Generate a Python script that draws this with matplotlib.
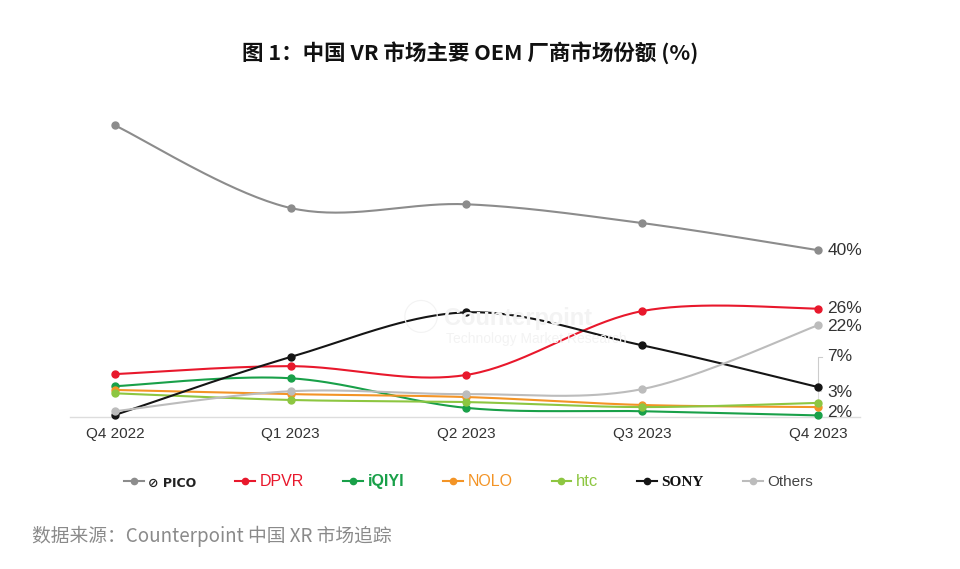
import numpy as np
import matplotlib
matplotlib.use("Agg")
from matplotlib import pyplot as plt
from matplotlib.lines import Line2D

plt.rcParams['font.family'] = ['Liberation Sans', 'Noto Sans CJK SC', 'DejaVu Sans']

quarters = ["Q4 2022", "Q1 2023", "Q2 2023", "Q3 2023", "Q4 2023"]
brands = ["PICO", "DPVR", "iQIYI", "NOLO", "htc", "SONY", "Others"]

pico = [69.9, 50.1, 51.0, 46.5, 40.0]
dpvr = [10.3, 12.2, 10.1, 25.4, 26.0]
iqiyi = [7.4, 9.3, 2.2, 1.4, 0.4]
nolo = [6.5, 5.5, 4.8, 2.9, 2.4]
htc = [5.7, 4.1, 3.6, 2.4, 3.4]
sony = [0.5, 14.4, 25.1, 17.2, 7.2]
others = [1.4, 6.2, 5.5, 6.7, 22.0]

end_labels = ["40%", "26%", "22%", "7%", "3%", "2%"]
end_label_y = [40.0, 26.0, 21.8, 14.4, 6.0, 1.2]

colors = ["#8c8c8c", "#e8182c", "#19a049", "#f39426", "#8dc641", "#151515", "#bcbcbc"]
series = [pico, dpvr, iqiyi, nolo, htc, sony, others]


def catmull_rom(xs, ys, steps=40):
    # smoothed line like the office charts do
    p = np.column_stack([xs, ys]).astype(float)
    p = np.vstack([p[0], p, p[-1]])
    out = []
    t = np.linspace(0, 1, steps)
    for i in range(1, len(p) - 2):
        p0, p1, p2, p3 = p[i - 1], p[i], p[i + 1], p[i + 2]
        c1 = p1 + (p2 - p0) / 6
        c2 = p2 - (p3 - p1) / 6
        seg = ((1 - t) ** 3)[:, None] * p1 + (3 * (1 - t) ** 2 * t)[:, None] * c1 \
            + (3 * (1 - t) * t ** 2)[:, None] * c2 + (t ** 3)[:, None] * p2
        out.append(seg if i == 1 else seg[1:])
    out = np.vstack(out)
    return out[:, 0], out[:, 1]


fig = plt.figure(figsize=(9.6, 5.69), dpi=100)
ax = fig.add_axes([0.0729, 0.267, 0.823, 0.55])

x = np.arange(len(quarters))
# draw back to front: lighter lines behind
order = [6, 0, 4, 3, 2, 1, 5]
for i in order:
    sx, sy = catmull_rom(x, series[i])
    ax.plot(sx, sy, color=colors[i], lw=1.5, solid_capstyle="round", zorder=3 + i * 0.1, clip_on=False)
    ax.plot(x, series[i], "o", color=colors[i], ms=5, zorder=4 + i * 0.1, clip_on=False)

ax.set_xlim(-0.256, 4.24)
ax.set_ylim(0, 75)
ax.set_xticks(x)
ax.set_xticklabels(quarters, fontsize=11, color="#333333")
ax.set_yticks([])
ax.tick_params(axis="x", length=0, pad=7)
for s in ["top", "right", "left"]:
    ax.spines[s].set_visible(False)
ax.spines["bottom"].set_color("#dddddd")
ax.spines["bottom"].set_linewidth(1)

# end labels
for lab, yv in zip(end_labels, end_label_y):
    ax.text(4.055, yv, lab, fontsize=12.5, color="#333333", va="center", ha="left")

# leader lines
ax.plot([4.0, 4.0, 4.025], [7.6, 14.5, 14.5], color="#cccccc", lw=0.8, zorder=2)
ax.plot([4.0, 4.0, 4.02], [3.6, 6.3, 6.3], color="#dddddd", lw=0.8, zorder=2)

# watermark
wm = "#f3f3f3"
fig.text(0.438, 0.437, "\u25EF", fontsize=26, color=wm, ha="center", va="center", zorder=0)
fig.text(0.463, 0.441, "Counterpoint", fontsize=17, fontweight="bold", color=wm, va="center", zorder=0)
fig.text(0.465, 0.404, "Technology Market Research", fontsize=10, color=wm, va="center", zorder=0)

# title
fig.text(0.49, 0.908, "图 1：中国 VR 市场主要 OEM 厂商市场份额 (%)", fontsize=15.5, fontweight="bold",
         family=["Noto Sans CJK SC", "DejaVu Sans"], ha="center", va="center", color="#111111")

# legend
handles = [Line2D([0], [0], color=c, lw=1.5, marker="o", ms=4.5) for c in colors]
legend_names = ["\u2298 PICO", "DPVR", "iQIYI", "NOLO", "htc", "SONY", "Others"]
leg = fig.legend(handles, legend_names, loc="center", bbox_to_anchor=(0.488, 0.153), ncol=7,
                 frameon=False, handlelength=1.3, handletextpad=0.3, columnspacing=2.55, fontsize=11)
styles = [
    dict(color="#222222", fontweight="bold", fontsize=9, family=["DejaVu Sans"]),
    dict(color=colors[1], fontsize=11.5),
    dict(color=colors[2], fontweight="bold", fontsize=11.5),
    dict(color=colors[3], fontsize=11.5),
    dict(color=colors[4], fontsize=12),
    dict(color="#111111", fontweight="bold", fontsize=11, family=["Liberation Serif"]),
    dict(color="#444444", fontsize=11),
]
for t, st in zip(leg.get_texts(), styles):
    t.set(**st)

# source
fig.text(0.033, 0.057, "数据来源：Counterpoint 中国 XR 市场追踪", fontsize=13.5,
         family=["Noto Sans CJK SC", "DejaVu Sans"], color="#8a8a8a", va="center")

fig.savefig("out.png", dpi=100, facecolor="white")
